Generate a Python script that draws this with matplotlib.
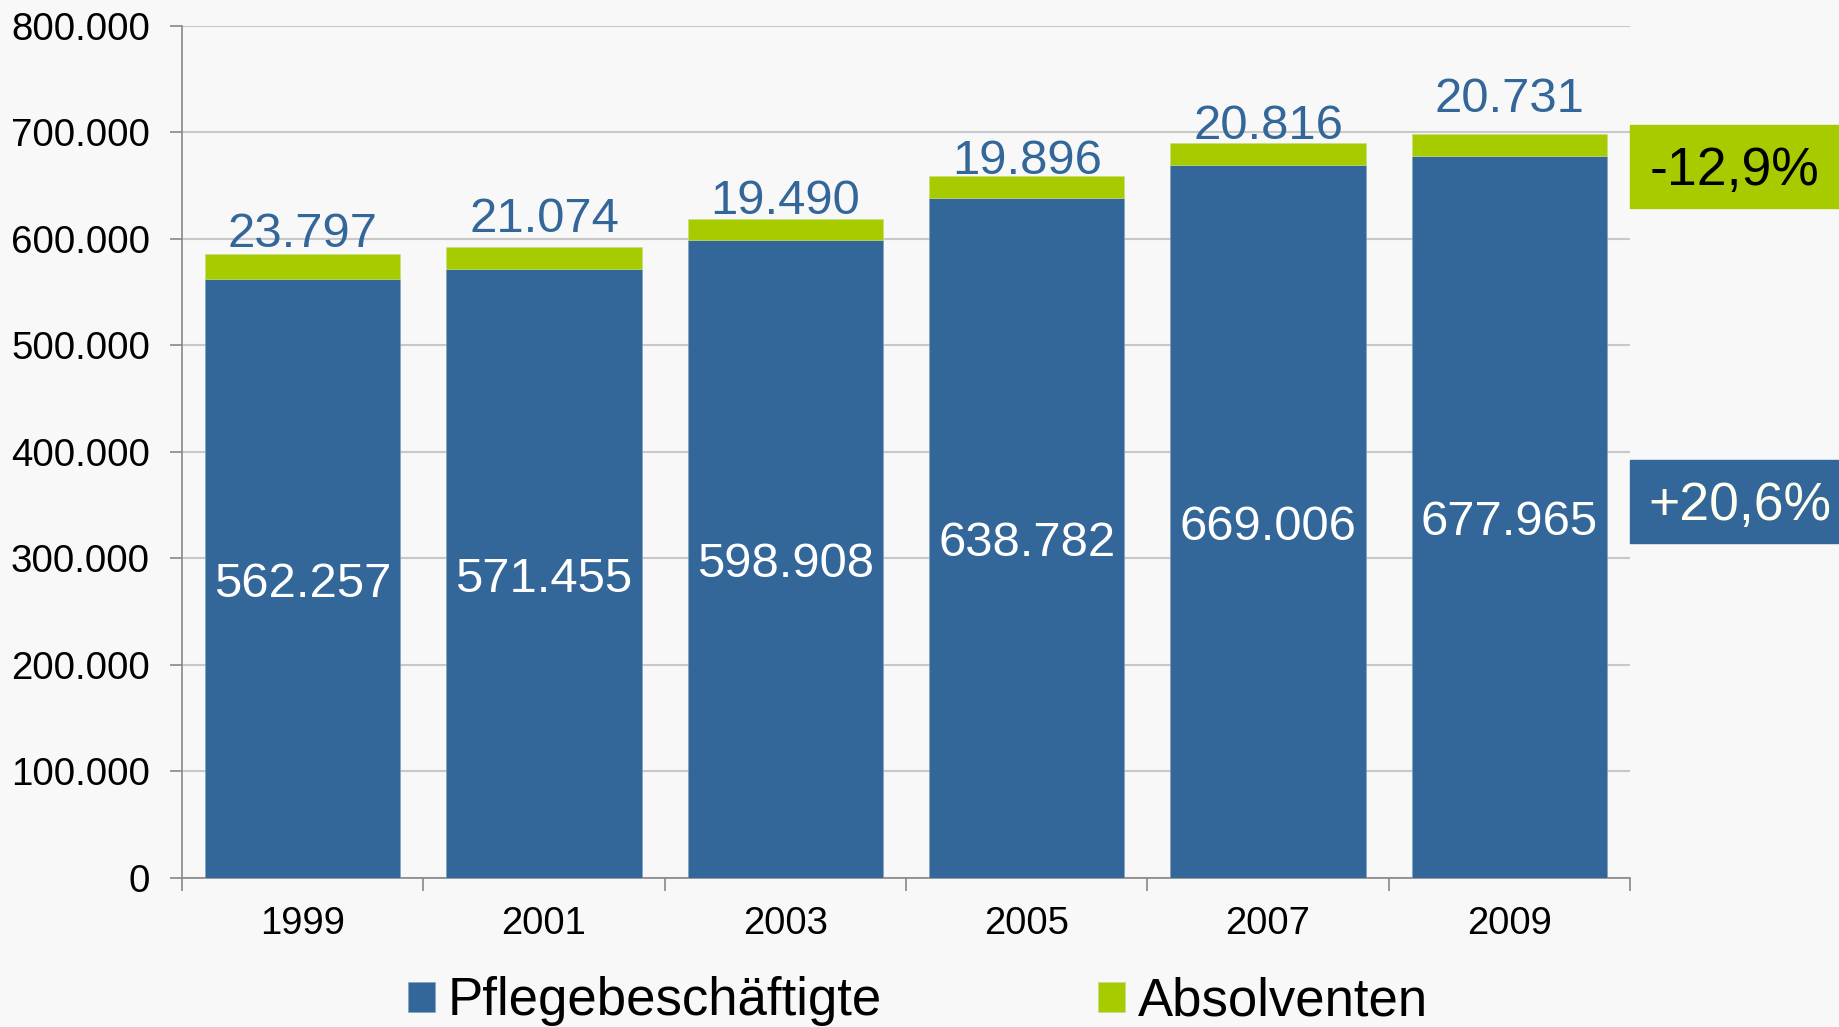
import matplotlib.pyplot as plt
from matplotlib.patches import Rectangle

plt.rcParams['font.family'] = ['Liberation Sans', 'DejaVu Sans']

# data
years = ['1999', '2001', '2003', '2005', '2007', '2009']
pflege = [562257, 571455, 598908, 638782, 669006, 677965]
absolventen = [23797, 21074, 19490, 19896, 20816, 20731]
change_absolventen = '-12,9%'
change_pflege = '+20,6%'

# small per-label lift of the top labels (points), as in the original
top_nudge = [3, 9, 2, 0, 1, 14]

blue = '#336699'
green = '#A6CC00'
bg = '#F8F8F8'


def de_num(v):
    return f'{v:,}'.replace(',', '.')


fig = plt.figure(figsize=(18.4, 10.27), dpi=100, facecolor=bg)
ax = fig.add_axes([0.0989, 0.1451, 0.7870, 0.8296], facecolor=bg)

x = list(range(len(years)))
b1 = ax.bar(x, pflege, width=0.81, color=blue, edgecolor='#7f9fbf', linewidth=0.4,
            label='Pflegebeschäftigte', zorder=3)
b2 = ax.bar(x, absolventen, width=0.81, bottom=pflege, color=green, edgecolor='#c8dc80',
            linewidth=0.4, label='Absolventen', zorder=3)

for i in x:
    ax.annotate(de_num(pflege[i]), (i, pflege[i] / 2), xytext=(0, -4),
                textcoords='offset points', ha='center', va='center',
                color='white', fontsize=35.3, zorder=4)
    ax.annotate(de_num(absolventen[i]), (i, pflege[i] + absolventen[i]),
                xytext=(0, 2 + top_nudge[i]), textcoords='offset points',
                ha='center', va='baseline', color=blue, fontsize=35.3, zorder=4)

ax.set_xlim(-0.5, len(years) - 0.5)
ax.set_ylim(0, 800000)
ax.set_yticks(range(0, 800001, 100000))
ax.set_yticklabels([de_num(v) for v in range(0, 800001, 100000)], fontsize=27.7)
ax.set_xticks(x)
ax.set_xticklabels(years, fontsize=27.5)
ax.set_xticks([i - 0.5 for i in range(len(years) + 1)], minor=True)
ax.tick_params(axis='x', which='major', length=0, pad=20)
ax.tick_params(axis='x', which='minor', length=9, width=1.2, color='#888888')
ax.tick_params(axis='y', length=9, width=1.2, color='#888888', pad=14)

ax.grid(axis='y', color='#c8c8c8', linewidth=1.5, zorder=0)
for s in ['top', 'right']:
    ax.spines[s].set_visible(False)
for s in ['left', 'bottom']:
    ax.spines[s].set_color('#888888')
    ax.spines[s].set_linewidth(1.2)

# change boxes on the right
fig.add_artist(Rectangle((1630 / 1840, 1 - 208 / 1027), 210 / 1840, 83 / 1027,
                         transform=fig.transFigure, color=green))
fig.text(1735 / 1840, 1 - 171 / 1027, change_absolventen, ha='center', va='center',
         fontsize=38.5, color='black')
fig.add_artist(Rectangle((1630 / 1840, 1 - 543 / 1027), 210 / 1840, 83 / 1027,
                         transform=fig.transFigure, color=blue))
fig.text(1740 / 1840, 1 - 506 / 1027, change_pflege, ha='center', va='center',
         fontsize=38.5, color='#FFFFF0')

fig.legend(handles=[b1, b2], loc='center', bbox_to_anchor=(0.499, 0.025), ncol=2,
           frameon=False, fontsize=38, handlelength=0.5, handleheight=0.5,
           handletextpad=0.25, columnspacing=4.1)

fig.savefig('out.png', dpi=100, facecolor=bg)
